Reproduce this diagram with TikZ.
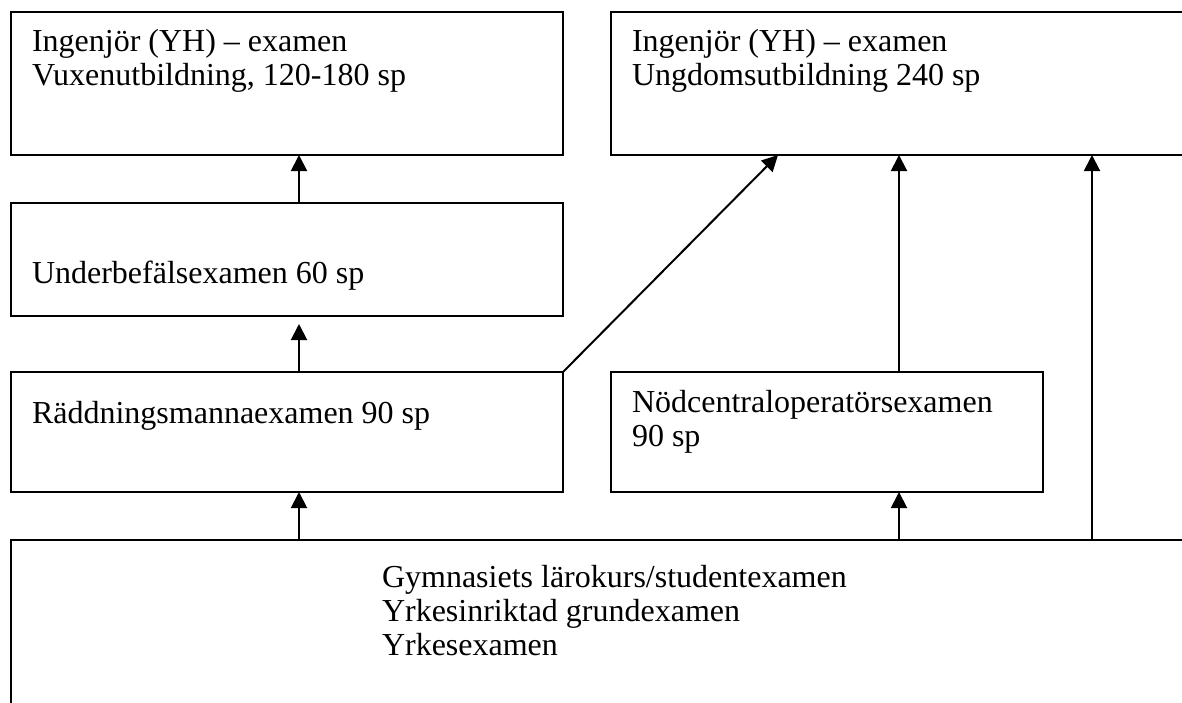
\documentclass[tikz,border=0pt]{standalone}
\usepackage{fontspec}
\setmainfont{Liberation Serif}
\usetikzlibrary{arrows.meta}
\begin{document}
\begin{tikzpicture}[x=1pt,y=-1pt,
  box/.style={draw, line width=2pt, rectangle, anchor=north west, inner sep=0pt, outer sep=0pt},
  lbl/.style={anchor=base west, inner sep=0pt, outer sep=0pt, align=left, font=\fontsize{32}{34}\selectfont},
  arr/.style={line width=2pt, -{Triangle[length=16pt, width=16pt]}}]
\clip (0,0) rectangle (1182,702);
\fill[white] (0,0) rectangle (1182,702);
% boxes
\node[box, minimum width=552pt, minimum height=143pt] (A) at (11,12) {};
\node[box, minimum width=600pt, minimum height=143pt] (B) at (611,12) {};
\node[box, minimum width=552pt, minimum height=113pt] (C) at (11,203) {};
\node[box, minimum width=552pt, minimum height=120pt] (D) at (11,372) {};
\node[box, minimum width=432pt, minimum height=120pt] (E) at (611,372) {};
\node[box, minimum width=1200pt, minimum height=200pt] (F) at (11,540) {};
% texts (anchor = baseline of last line)
\node[lbl] (tA) at (32,85) {Ingenjör (YH) – examen\\Vuxenutbildning, 120-180 sp};
\node[lbl] (tB) at (632,85) {Ingenjör (YH) – examen\\Ungdomsutbildning 240 sp};
\node[lbl] (tC) at (32,283) {Underbefälsexamen 60 sp};
\node[lbl] (tD) at (32,423) {Räddningsmannaexamen 90 sp};
\node[lbl] (tE) at (632,446) {Nödcentraloperatörsexamen\\90 sp};
\node[lbl] (tF) at (382,655) {Gymnasiets lärokurs/studentexamen\\Yrkesinriktad grundexamen\\Yrkesexamen};
% x positions of connectors
\coordinate (x1) at (299,0);
\coordinate (x2) at (778,0);
\coordinate (x3) at (899,0);
\coordinate (x4) at (1092,0);
% connectors
\draw[arr] (C.north -| x1) -- (A.south -| x1);
\draw[arr, shorten >=8pt] (D.north -| x1) -- (C.south -| x1);
\draw[arr] (D.north east) -- (B.south -| x2);
\draw[arr] (E.north -| x3) -- (B.south -| x3);
\draw[arr] (F.north -| x1) -- (D.south -| x1);
\draw[arr] (F.north -| x3) -- (E.south -| x3);
\draw[arr] (F.north -| x4) -- (B.south -| x4);
\end{tikzpicture}
\end{document}
